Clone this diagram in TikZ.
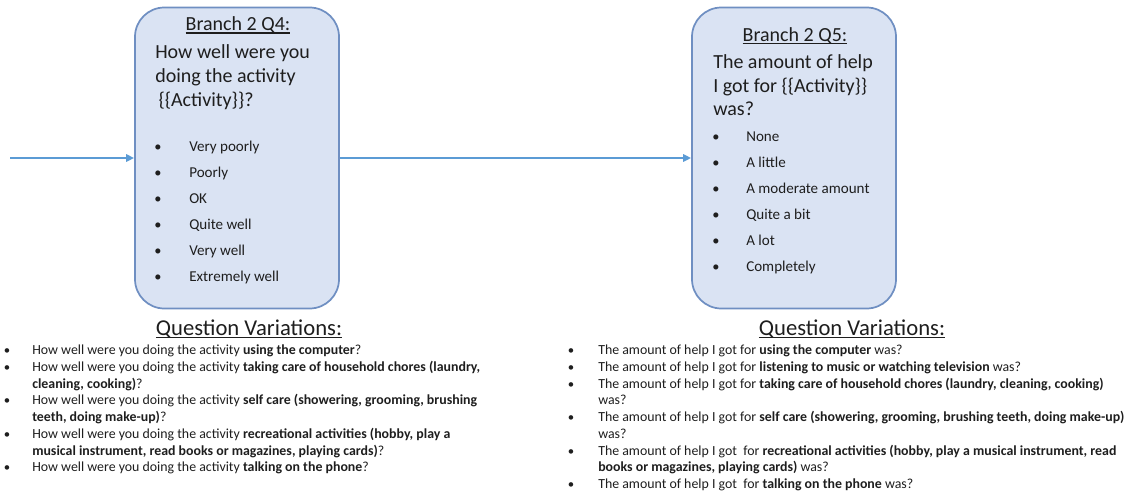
\documentclass[tikz,border=0pt]{standalone}
\usepackage{fontspec}
\setmainfont{Carlito}
\usetikzlibrary{arrows.meta}
\newcommand\myul[1]{\setbox0\hbox{#1}\rlap{\rule[-0.14em]{\wd0}{0.065em}}\box0}
\definecolor{boxfill}{HTML}{DAE3F3}
\definecolor{boxline}{HTML}{6F8FC2}
\definecolor{arrowc}{HTML}{5B9BD5}
\definecolor{txt}{HTML}{1E1E1E}
\tikzset{
  qbox/.style={draw=boxline, line width=1.3pt, fill=boxfill, rounded corners=22pt,
    minimum width=204*0.75pt, minimum height=301*0.75pt, inner sep=0pt},
  conn/.style={draw=arrowc, line width=1.4pt, -{Triangle[length=6pt,width=5.5pt]}},
  head/.style={anchor=base, font=\fontsize{15}{18}\selectfont, text=txt, inner sep=0pt},
  qline/.style={anchor=base west, font=\fontsize{15}{18}\selectfont, text=txt, inner sep=0pt},
  opt/.style={anchor=base west, font=\fontsize{11.3}{13}\selectfont, text=txt, inner sep=0pt},
  dot/.style={anchor=base, font=\fontsize{10.8}{13}\selectfont, text=txt, inner sep=0pt},
  vtitle/.style={anchor=base, font=\fontsize{17}{20}\selectfont, text=txt, inner sep=0pt},
  vline/.style={anchor=base west, font=\fontsize{10.4}{12}\selectfont, text=txt, inner sep=0pt},
  vdot/.style={anchor=base, font=\fontsize{9.6}{12}\selectfont, text=txt, inner sep=0pt},
}
\begin{document}
\begin{tikzpicture}[x=0.75pt,y=-0.75pt]
\useasboundingbox (0,0) rectangle (1142,496);
% boxes
\node[qbox] (b1) at (237,158) {};
\node[qbox] (b2) at (794,158) {};
\coordinate (start) at (10,158);
\draw[conn] (start) -- (b1.west);
\draw[conn] (b1.east) -- (b2.west);
% box 1 text
\node[head] (h1) at (238,31) {\myul{Branch 2 Q4:}};
\node[qline] (q1a) at (155,58) {How well were you};
\node[qline] (q1b) at (155,82) {doing the activity};
\node[qline] (q1c) at (155,106) {\,\{\{Activity\}\}?};
\foreach \t [count=\i] in {Very poorly,Poorly,OK,Quite well,Very well,Extremely well}{
  \node[dot] (d1\i) at (158,{151+26*(\i-1)}) {•};
  \node[opt] (o1\i) at (189,{151+26*(\i-1)}) {\t};
}
% box 2 text
\node[head] (h2) at (795,41) {\myul{Branch 2 Q5:}};
\node[qline] (q2a) at (713,68) {The amount of help};
\node[qline] (q2b) at (713,92) {I got for \{\{Activity\}\}};
\node[qline] (q2c) at (713,115) {was?};
\foreach \t [count=\i] in {None,A little,A moderate amount,Quite a bit,A lot,Completely}{
  \node[dot] (d2\i) at (716,{141+26*(\i-1)}) {•};
  \node[opt] (o2\i) at (746,{141+26*(\i-1)}) {\t};
}
% variations left
\node[vtitle] (vt1) at (249,335) {\myul{Question Variations:}};
\node[vdot] (l1d) at (7,354) {•};
\node[vline] (l1) at (32,354) {How well were you doing the activity \textbf{using the computer}?};
\node[vdot] (l2d) at (7,371) {•};
\node[vline] (l2) at (32,371) {How well were you doing the activity \textbf{taking care of household chores (laundry,}};
\node[vline] (l2b) at (32,388) {\textbf{cleaning, cooking)}?};
\node[vdot] (l3d) at (7,404) {•};
\node[vline] (l3) at (32,404) {How well were you doing the activity \textbf{self care (showering, grooming, brushing}};
\node[vline] (l3b) at (32,421) {\textbf{teeth, doing make-up)}?};
\node[vdot] (l4d) at (7,438) {•};
\node[vline] (l4) at (32,438) {How well were you doing the activity \textbf{recreational activities (hobby, play a}};
\node[vline] (l4b) at (32,455) {\textbf{musical instrument, read books or magazines, playing cards)}?};
\node[vdot] (l5d) at (7,471) {•};
\node[vline] (l5) at (32,471) {How well were you doing the activity \textbf{talking on the phone}?};
% variations right
\node[vtitle] (vt2) at (852,335) {\myul{Question Variations:}};
\node[vdot] (r1d) at (571,354) {•};
\node[vline] (r1) at (598,354) {The amount of help I got for \textbf{using the computer} was?};
\node[vdot] (r2d) at (571,371) {•};
\node[vline] (r2) at (598,371) {The amount of help I got for \textbf{listening to music or watching television} was?};
\node[vdot] (r3d) at (571,388) {•};
\node[vline] (r3) at (598,388) {The amount of help I got for \textbf{taking care of household chores (laundry, cleaning, cooking)}};
\node[vline] (r3b) at (598,404) {was?};
\node[vdot] (r4d) at (571,421) {•};
\node[vline] (r4) at (598,421) {The amount of help I got for \textbf{self care (showering, grooming, brushing teeth, doing make-up)}};
\node[vline] (r4b) at (598,438) {was?};
\node[vdot] (r5d) at (571,455) {•};
\node[vline] (r5) at (598,455) {The amount of help I got\ \ for \textbf{recreational activities (hobby, play a musical instrument, read}};
\node[vline] (r5b) at (598,471) {\textbf{books or magazines, playing cards)} was?};
\node[vdot] (r6d) at (571,488) {•};
\node[vline] (r6) at (598,488) {The amount of help I got\ \ for \textbf{talking on the phone} was?};
\end{tikzpicture}
\end{document}
